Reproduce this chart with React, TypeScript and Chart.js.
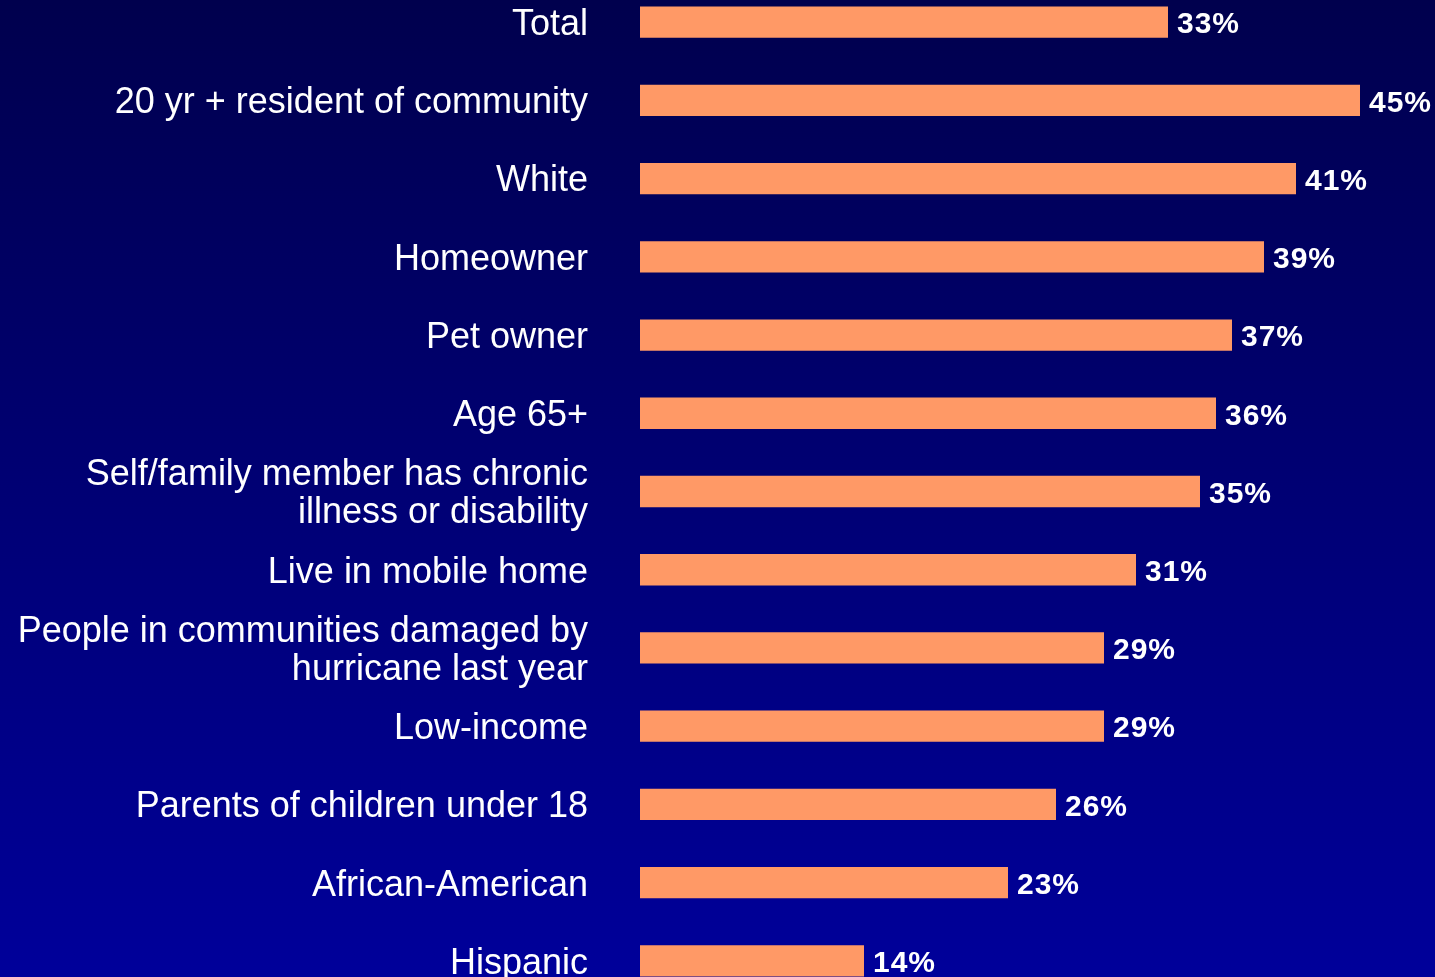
import React, { useEffect, useRef } from "react";
import { Chart, registerables } from "chart.js";

Chart.register(...registerables);

const categories: (string | string[])[] = [
  "Total",
  "20 yr + resident of community",
  "White",
  "Homeowner",
  "Pet owner",
  "Age 65+",
  ["Self/family member has chronic", "illness or disability"],
  "Live in mobile home",
  ["People in communities damaged by", "hurricane last year"],
  "Low-income",
  "Parents of children under 18",
  "African-American",
  "Hispanic",
];

const values: number[] = [33, 45, 41, 39, 37, 36, 35, 31, 29, 29, 26, 23, 14];

const FONT = "'Liberation Sans', Arial, Helvetica, sans-serif";

const bgPlugin = {
  id: "bgGradient",
  beforeDraw(chart: any) {
    const { ctx, width, height } = chart;
    const g = ctx.createLinearGradient(0, 0, 0, height);
    g.addColorStop(0, "#00004c");
    g.addColorStop(1, "#00009c");
    ctx.save();
    ctx.fillStyle = g;
    ctx.fillRect(0, 0, width, height);
    ctx.restore();
  },
};

const valueLabelPlugin = {
  id: "valueLabels",
  afterDatasetsDraw(chart: any) {
    const { ctx } = chart;
    const meta = chart.getDatasetMeta(0);
    ctx.save();
    ctx.fillStyle = "#ffffff";
    ctx.font = `bold 30px ${FONT}`;
    try {
      (ctx as any).letterSpacing = "1px";
    } catch (e) {}
    ctx.textAlign = "left";
    ctx.textBaseline = "middle";
    meta.data.forEach((bar: any, i: number) => {
      ctx.fillText(`${values[i]}%`, bar.x + 9, bar.y + 3);
    });
    ctx.restore();
  },
};

export default function App() {
  const ref = useRef<HTMLCanvasElement | null>(null);

  useEffect(() => {
    if (!ref.current) return;
    const chart = new Chart(ref.current, {
      type: "bar",
      data: {
        labels: categories,
        datasets: [
          {
            data: values,
            backgroundColor: "#ff9966",
            borderWidth: 0,
            barPercentage: 0.4,
            categoryPercentage: 1,
          },
        ],
      },
      options: {
        indexAxis: "y",
        animation: false,
        responsive: false,
        maintainAspectRatio: false,
        layout: { padding: 0 },
        plugins: {
          legend: { display: false },
          tooltip: { enabled: false },
          title: { display: false },
        },
        scales: {
          x: {
            display: false,
            min: 0,
            max: 50,
          },
          y: {
            grid: { display: false, drawTicks: false },
            border: { display: false },
            afterFit(scale: any) {
              scale.width = 640;
              scale.paddingTop = 0;
              scale.paddingBottom = 0;
            },
            ticks: {
              color: "#ffffff",
              padding: 52,
              labelOffset: 3,
              autoSkip: false,
              font: { family: FONT, size: 36, lineHeight: 1.055 },
            },
          },
        },
      },
      plugins: [bgPlugin, valueLabelPlugin],
    });
    return () => chart.destroy();
  }, []);

  return (
    <div
      style={{
        position: "fixed",
        left: 0,
        top: 0,
        width: 1435,
        height: 977,
        overflow: "hidden",
        background: "#00006e",
      }}
    >
      <canvas
        ref={ref}
        width={1440}
        height={1017}
        style={{ position: "absolute", left: 0, top: -17, width: 1440, height: 1017 }}
      />
    </div>
  );
}
